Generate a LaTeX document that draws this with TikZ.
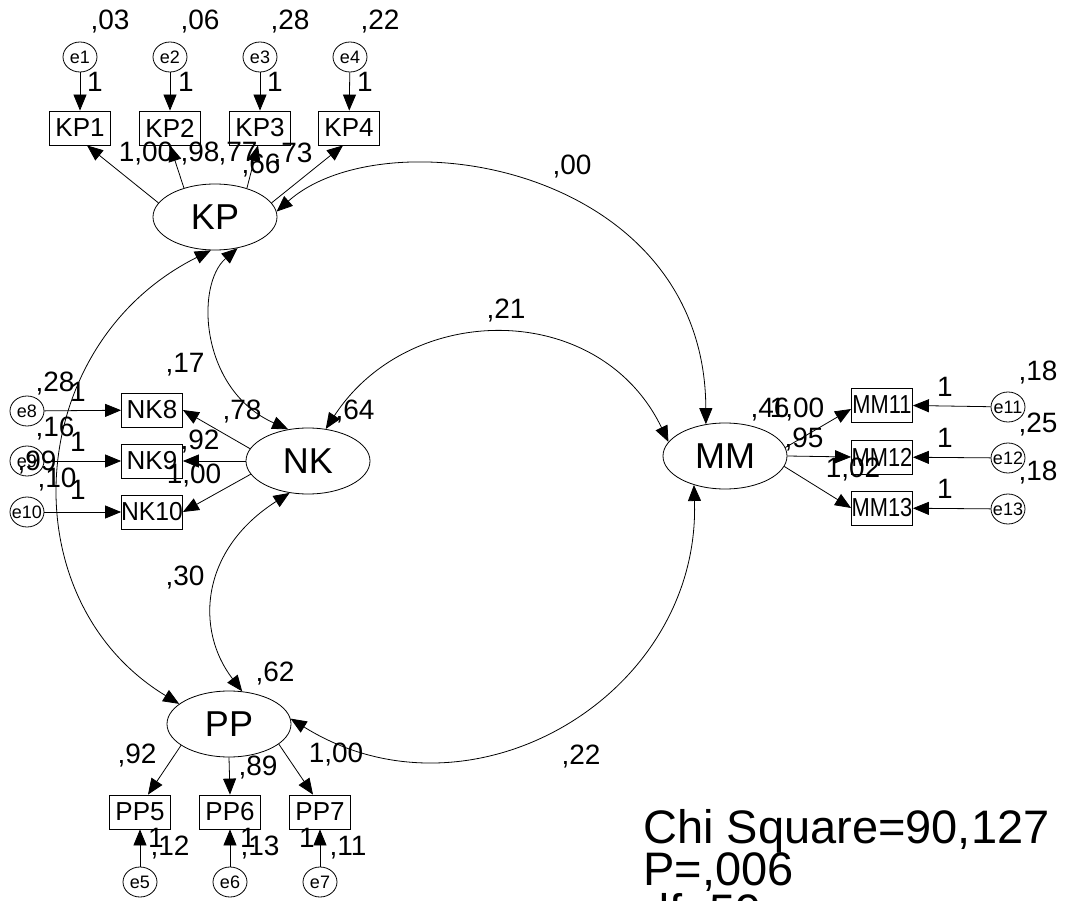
\documentclass[tikz,border=0pt]{standalone}
\usepackage{fontspec}
\setmainfont{Liberation Sans}
\usetikzlibrary{shapes.geometric,arrows.meta}
\begin{document}
\begin{tikzpicture}[x=1pt,y=-1pt,
  amos/.tip={Triangle[length=16pt,width=13pt]},
  lat/.style={draw,line width=0.8pt,ellipse,minimum width=124pt,minimum height=66pt,inner sep=0pt,font=\fontsize{36}{36}\selectfont},
  obs/.style={draw,line width=0.8pt,rectangle,minimum width=61pt,minimum height=34pt,inner sep=0pt,font=\fontsize{26}{26}\selectfont},
  err/.style={draw,line width=0.8pt,ellipse,minimum width=34pt,minimum height=30pt,inner sep=0pt,font=\fontsize{18}{18}\selectfont},
  num/.style={inner sep=0pt,font=\fontsize{28}{28}\selectfont},
  chi/.style={inner sep=0pt,anchor=base west,font=\fontsize{47}{47}\selectfont},
  arr/.style={-amos,line width=0.8pt},
  cov/.style={amos-amos,line width=0.8pt},
]
\path[use as bounding box,fill=white] (0,0) rectangle (1066,901);

% latent variables
\node[lat] (KP) at (215,217) {KP};
\node[lat] (NK) at (308,461) {NK};
\node[lat] (MM) at (725,456) {MM};
\node[lat] (PP) at (229,724) {PP};

% KP indicators
\node[obs] (KP1) at (80,128) {\makebox[0pt]{KP1}};
\node[obs] (KP2) at (170,128) {\makebox[0pt]{KP2}};
\node[obs] (KP3) at (260,128) {\makebox[0pt]{KP3}};
\node[obs] (KP4) at (349,128) {\makebox[0pt]{KP4}};
\node[err] (e1) at (80,57) {\makebox[0pt]{e1}};
\node[err] (e2) at (170,57) {\makebox[0pt]{e2}};
\node[err] (e3) at (260,57) {\makebox[0pt]{e3}};
\node[err] (e4) at (350,57) {\makebox[0pt]{e4}};

% NK indicators
\node[obs] (NK8) at (152,410) {\makebox[0pt]{NK8}};
\node[obs] (NK9) at (152,461) {\makebox[0pt]{NK9}};
\node[obs] (NK10) at (152,512) {\makebox[0pt]{\scalebox{0.95}[1]{NK10}}};
\node[err] (e8) at (27,411) {\makebox[0pt]{e8}};
\node[err] (e9) at (27,461) {\makebox[0pt]{e9}};
\node[err] (e10) at (27,512) {\makebox[0pt]{e10}};

% MM indicators
\node[obs] (MM11) at (882,405) {\makebox[0pt]{\scalebox{0.84}[1]{MM11}}};
\node[obs] (MM12) at (882,457) {\makebox[0pt]{\scalebox{0.84}[1]{MM12}}};
\node[obs] (MM13) at (882,508) {\makebox[0pt]{\scalebox{0.84}[1]{MM13}}};
\node[err] (e11) at (1008,407) {\makebox[0pt]{e11}};
\node[err] (e12) at (1008,458) {\makebox[0pt]{e12}};
\node[err] (e13) at (1008,509) {\makebox[0pt]{e13}};

% PP indicators
\node[obs] (PP5) at (140,812) {\makebox[0pt]{PP5}};
\node[obs] (PP6) at (230,812) {\makebox[0pt]{PP6}};
\node[obs] (PP7) at (320,812) {\makebox[0pt]{PP7}};
\node[err] (e5) at (140,882) {\makebox[0pt]{e5}};
\node[err] (e6) at (230,882) {\makebox[0pt]{e6}};
\node[err] (e7) at (320,882) {\makebox[0pt]{e7}};

% error arrows
\draw[arr] (e1) -- (KP1);
\draw[arr] (e2) -- (KP2);
\draw[arr] (e3) -- (KP3);
\draw[arr] (e4) -- (KP4);
\draw[arr] (e8) -- (NK8);
\draw[arr] (e9) -- (NK9);
\draw[arr] (e10) -- (NK10);
\draw[arr] (e11) -- (MM11);
\draw[arr] (e12) -- (MM12);
\draw[arr] (e13) -- (MM13);
\draw[arr] (e5) -- (PP5);
\draw[arr] (e6) -- (PP6);
\draw[arr] (e7) -- (PP7);

% loadings
\draw[arr] (KP.166) -- ([xshift=7pt]KP1.south);
\draw[arr] (KP.137) -- (KP2.south);
\draw[arr] (KP.42) -- ([xshift=-2pt]KP3.south);
\draw[arr] (KP.14) -- ([xshift=-6pt]KP4.south);
\draw[arr] (NK.168) -- (NK8.east);
\draw[arr] (NK.180) -- (NK9.east);
\draw[arr] (NK.193) -- (NK10.east);
\draw[arr] (MM.8) -- ([yshift=-4pt]MM11.west);
\draw[arr] (MM.0) -- (MM12.west);
\draw[arr] (MM.350) -- (MM13.west);
\draw[arr] (PP.204) -- ([xshift=8pt]PP5.north);
\draw[arr] (PP.270) -- (PP6.north);
\draw[arr] (PP.338) -- ([xshift=-7pt]PP7.north);

% covariances
\draw[cov] (KP.5) .. controls (385,115) and (705,165) .. (MM.121);
\draw[cov] (KP.306) .. controls (195,285) and (200,390) .. (NK.122);
\draw[cov] (NK.61) .. controls (410,300) and (600,300) .. (MM.166);
\draw[cov] (NK.240) .. controls (200,550) and (195,630) .. (PP.68);
\draw[cov] (KP.263) .. controls (22,345) and (8,600) .. (PP.158);
\draw[cov] (PP.5) .. controls (471,831) and (701,696) .. (MM.223);

% error variances and fixed weights (top)
\node[num] (v1) at (110,22) {,03};
\node[num] (v2) at (200,22) {,06};
\node[num] (v3) at (290,22) {,28};
\node[num] (v4) at (380,22) {,22};
\node[num] (w1) at (95,82) {1};
\node[num] (w2) at (186,82) {1};
\node[num] (w3) at (275,82) {1};
\node[num] (w4) at (365,82) {1};
\node[num] (l1) at (146,154) {1,00};
\node[num] (l2) at (200,154) {,98};
\node[num] (l3) at (238,154) {,77};
\node[num] (l4) at (293,155) {,73};
\node[num] (vKP) at (261,166) {,66};

% covariance labels
\node[num] (c1) at (572,167) {,00};
\node[num] (c2) at (506,311) {,21};
\node[num] (c3) at (185,365) {,17};
\node[num] (c4) at (185,578) {,30};
\node[num] (c5) at (37,463) {,99};
\node[num] (c6) at (581,757) {,22};

% NK labels
\node[num] (l8) at (242,412) {,78};
\node[num] (vNK) at (355,412) {,64};
\node[num] (l9) at (200,442) {,92};
\node[num] (l10) at (194,476) {1,00};
\node[num] (v8) at (55,384) {,28};
\node[num] (v9) at (55,429) {,16};
\node[num] (v10) at (57,480) {,10};
\node[num] (w8) at (78,392) {1};
\node[num] (w9) at (78,442) {1};
\node[num] (w10) at (78,490) {1};

% MM labels
\node[num] (vMM) at (770,410) {,46};
\node[num] (l11) at (797,410) {1,00};
\node[num] (l12) at (804,440) {,95};
\node[num] (l13) at (853,470) {1,02};
\node[num] (w11) at (945,387) {1};
\node[num] (w12) at (945,438) {1};
\node[num] (w13) at (945,489) {1};
\node[num] (v11) at (1038,373) {,18};
\node[num] (v12) at (1038,425) {,25};
\node[num] (v13) at (1038,473) {,18};

% PP labels
\node[num] (vPP) at (275,674) {,62};
\node[num] (l5) at (137,756) {,92};
\node[num] (l6) at (258,768) {,89};
\node[num] (l7) at (336,755) {1,00};
\node[num] (w5) at (156,838) {1};
\node[num] (w6) at (248,838) {1};
\node[num] (w7) at (307,838) {1};
\node[num] (v5) at (170,848) {,12};
\node[num] (v6) at (260,848) {,13};
\node[num] (v7) at (348,848) {,11};

% fit statistics
\node[chi] (chisq) at (643,843) {Chi Square=90,127};
\node[chi] (pval) at (643,885) {P=,006};
\node[chi] (df) at (643,927) {df=59};
\end{tikzpicture}
\end{document}
